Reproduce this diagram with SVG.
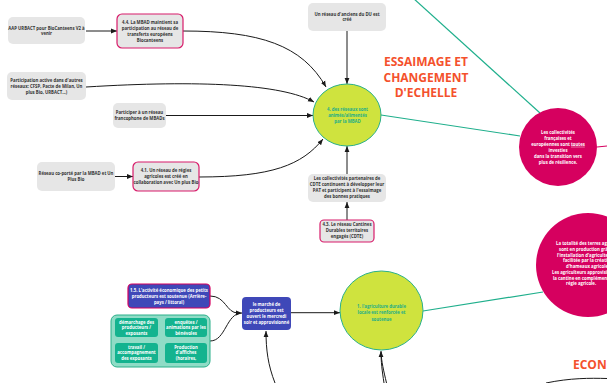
<svg xmlns="http://www.w3.org/2000/svg" width="607" height="383" viewBox="0 0 607 383">
<defs>
<marker id="ah" markerUnits="userSpaceOnUse" markerWidth="6" markerHeight="6" viewBox="0 0 6 6" refX="6" refY="3" orient="auto">
<path d="M0,0.6 L6,3 L0,5.4 Z" fill="#1a1a1a"/>
</marker>
</defs>
<style>
.t{font-family:"Open Sans","Liberation Sans",sans-serif;font-size:4.3px;font-weight:700;text-anchor:middle;}
.g{fill:#e6e6e6;}
.pk{fill:#e6e6e6;stroke:#d81b6a;stroke-width:1.2;}
.dark{fill:#333333;}
.w{fill:#ffffff;}
.gr{fill:#1fae88;}
.c{fill:none;stroke:#1a1a1a;stroke-width:1;}
.teal{fill:none;stroke:#1faf8c;stroke-width:1.2;}
.big{font-family:"Open Sans","Liberation Sans",sans-serif;font-size:12px;font-weight:700;fill:#f4512c;text-anchor:middle;}
.yc{fill:#cfe33e;stroke:#2ab08a;stroke-width:1;}
.blue{fill:#3f48b8;}
.tb{fill:#14b38f;}
</style>

<g id="connectors">
<path class="teal" d="M413,-2 L540,113"/>
<path class="teal" d="M381,115 L520,136"/>
<path d="M597,147 L607,146" fill="none" stroke="#d6005f" stroke-width="1.2"/>
<path class="teal" d="M423,311 L543,292"/>
<path class="c" marker-end="url(#ah)" d="M86,31 L117,31"/>
<path class="c" marker-end="url(#ah)" d="M183,31 C260,31 302,45 326,87"/>
<path class="c" marker-end="url(#ah)" d="M86,87 C200,80 282,84 314,102"/>
<path class="c" marker-end="url(#ah)" d="M166,115.5 L313,115.5"/>
<path class="c" marker-end="url(#ah)" d="M347,31 L347,84"/>
<path class="c" marker-end="url(#ah)" d="M115,176.5 L133,176.5"/>
<path class="c" marker-end="url(#ah)" d="M199,177 C272,177 302,165 323,139"/>
<path class="c" marker-end="url(#ah)" d="M347,174 L347,146"/>
<path class="c" marker-end="url(#ah)" d="M347,220 L347,202"/>
<path class="c" d="M210,296 C226,296 226,313 238,313"/>
<path class="c" marker-end="url(#ah)" d="M210,341 C226,341 226,313 242,313"/>
<path class="c" marker-end="url(#ah)" d="M291,312.7 L340,312.7"/>
<path class="c" marker-end="url(#ah)" d="M275,383 C268,365 266,350 266,331"/>
<path class="c" marker-end="url(#ah)" d="M384,383 C382,370 381,362 381,351"/>
<path class="c" d="M386.5,383 C383.5,370 381.5,362 381,352"/>
<path class="c" d="M546,383 C570,378 590,378 607,378.5"/>
</g>

<g id="n-aap">
<rect class="g" x="8" y="17" width="77" height="27" rx="5"/>
<text class="t dark"><tspan x="46.5" y="30.2">AAP URBACT pour BioCanteens V2 à</tspan><tspan x="46.5" y="35.2">venir</tspan></text>
</g>

<g id="n-44">
<rect class="pk" x="117" y="14" width="66" height="34" rx="5"/>
<text class="t dark"><tspan x="150" y="24.2">4.4. La MBAD maintient sa</tspan><tspan x="150" y="30">participation au réseau de</tspan><tspan x="150" y="35.8">transferts européens</tspan><tspan x="150" y="41.5">Biocanteens</tspan></text>
</g>

<g id="n-participation">
<rect class="g" x="7" y="72" width="79" height="28" rx="5"/>
<text class="t dark"><tspan x="46.5" y="81.8">Participation active dans d'autres</tspan><tspan x="46.5" y="87.5">réseaux: CFSP, Pacte de Milan, Un</tspan><tspan x="46.5" y="93.5">plus Bio, URBACT...)</tspan></text>
</g>

<g id="n-participer">
<rect class="g" x="113" y="103" width="53" height="25" rx="5"/>
<text class="t dark"><tspan x="139.5" y="114.2">Participer à un réseau</tspan><tspan x="139.5" y="119.5">francophone de MBADs</tspan></text>
</g>

<g id="n-anciens">
<rect class="g" x="308" y="3" width="78" height="28" rx="5"/>
<text class="t dark"><tspan x="347" y="15.8">Un réseau d'anciens du DU est</tspan><tspan x="347" y="20.5">créé</tspan></text>
</g>

<g id="n-reseaux">
<ellipse class="yc" cx="347" cy="115" rx="34" ry="31"/>
<text class="t gr"><tspan x="347.5" y="110.5">4. des réseaux sont</tspan><tspan x="347.5" y="116.5">animés/alimentés</tspan><tspan x="347.5" y="122.5">par la MBAD</tspan></text>
</g>

<g id="n-titre-essaimage">
<text class="big"><tspan x="426" y="65.6">ESSAIMAGE ET</tspan><tspan x="426" y="81.6">CHANGEMENT</tspan><tspan x="426" y="96.6">D'ECHELLE</tspan></text>
</g>

<g id="n-coporte">
<rect class="g" x="37" y="162" width="78" height="29" rx="5"/>
<text class="t dark"><tspan x="76" y="174.5">Réseau co-porté par la MBAD et Un</tspan><tspan x="76" y="180.8">Plus Bio</tspan></text>
</g>

<g id="n-41">
<rect class="pk" x="133" y="162" width="66" height="29" rx="5"/>
<text class="t dark"><tspan x="166" y="171.8">4.1. Un réseau de régies</tspan><tspan x="166" y="177.8">agricoles est créé en</tspan><tspan x="166" y="183.8">collaboration avec Un plus Bio</tspan></text>
</g>

<g id="n-cdte-collectivites">
<rect class="g" x="308" y="174" width="78" height="28" rx="5"/>
<text class="t dark"><tspan x="347" y="179.8">Les collectivités partenaires de</tspan><tspan x="347" y="185.8">CDTE continuent à développer leur</tspan><tspan x="347" y="191.8">PAT et participent à l'essaimage</tspan><tspan x="347" y="197.8">des bonnes pratiques</tspan></text>
</g>

<g id="n-43">
<rect class="pk" x="320" y="220" width="54" height="22" rx="4"/>
<text class="t dark"><tspan x="347" y="225.8">4.3. Le réseau Cantines</tspan><tspan x="347" y="231.8">Durables territoires</tspan><tspan x="347" y="237.8">engagés (CDTE)</tspan></text>
</g>

<g id="n-collectivites">
<circle cx="558" cy="147" r="39" fill="#d6005f"/>
<text class="t w"><tspan x="558" y="133.8">Les collectivités</tspan><tspan x="558" y="139.8">françaises et</tspan><tspan x="558" y="145.8">européennes sont <tspan text-decoration="underline">toutes</tspan></tspan><tspan x="558" y="152.2">investies</tspan><tspan x="558" y="158.2">dans la transition vers</tspan><tspan x="558" y="164.2">plus de résilience.</tspan></text>
</g>

<g id="n-terres">
<circle cx="588" cy="265" r="52" fill="#d6005f"/>
<text class="t w" style="text-anchor:start"><tspan x="556" y="245.2">La totalité des terres agricoles</tspan><tspan x="559" y="250.8">sont en production grâce à</tspan><tspan x="557" y="256.5">l'installation d'agriculteurs</tspan><tspan x="563" y="262.2">facilitée par la création</tspan><tspan x="566" y="268.2">d'hameaux agricoles.</tspan><tspan x="552" y="273.8">Les agriculteurs approvisionnent</tspan><tspan x="553" y="279.8">la cantine en complément de la</tspan><tspan x="566" y="285.2">régie agricole.</tspan></text>
</g>

<g id="n-titre-economie">
<text class="big" style="text-anchor:start" x="573" y="368.6">ECONOMIE</text>
</g>

<g id="n-15">
<rect class="blue" x="128" y="284" width="82" height="24" rx="4" stroke="#d6005f" stroke-width="1.2"/>
<text class="t w"><tspan x="169" y="291.5">1.5. L'activité économique des petits</tspan><tspan x="169" y="297.5">producteurs est soutenue (Arrière-</tspan><tspan x="169" y="303.5">pays / littoral)</tspan></text>
</g>

<g id="n-actions">
<rect x="111" y="315" width="99" height="52" rx="6" fill="#8fdcc6" stroke="#2ab08a" stroke-width="1"/>
<rect class="tb" x="115" y="318" width="43" height="19" rx="3"/>
<rect class="tb" x="165" y="318" width="42" height="19" rx="3"/>
<rect class="tb" x="115" y="343" width="43" height="20" rx="3"/>
<rect class="tb" x="165" y="343" width="42" height="20" rx="3"/>
<text class="t w"><tspan x="136.5" y="323.5">démarchage des</tspan><tspan x="136.5" y="329.2">producteurs /</tspan><tspan x="136.5" y="334.9">exposants</tspan></text>
<text class="t w"><tspan x="186" y="323.5">enquêtes /</tspan><tspan x="186" y="329.2">animations par les</tspan><tspan x="186" y="334.9">bénévoles</tspan></text>
<text class="t w"><tspan x="136.5" y="348.7">travail /</tspan><tspan x="136.5" y="354.4">accompagnement</tspan><tspan x="136.5" y="360.1">des exposants</tspan></text>
<text class="t w"><tspan x="186" y="348.7">Production</tspan><tspan x="186" y="354.4">d'affiches</tspan><tspan x="186" y="360.1">(horaires,</tspan></text>
</g>

<g id="n-marche">
<rect class="blue" x="242" y="297" width="49" height="33" rx="4"/>
<text class="t w"><tspan x="266.5" y="305.5">le marché de</tspan><tspan x="266.5" y="311.5">producteurs est</tspan><tspan x="266.5" y="317.5">ouvert le mercredi</tspan><tspan x="266.5" y="323.5">soir et approvisionné</tspan></text>
</g>

<g id="n-agriculture">
<ellipse class="yc" cx="381.5" cy="310.5" rx="41.5" ry="39.5"/>
<text class="t gr"><tspan x="381.5" y="307.5">1. l'agriculture durable</tspan><tspan x="381.5" y="314.2">locale est renforcée et</tspan><tspan x="381.5" y="320.8">soutenue</tspan></text>
</g>
</svg>
